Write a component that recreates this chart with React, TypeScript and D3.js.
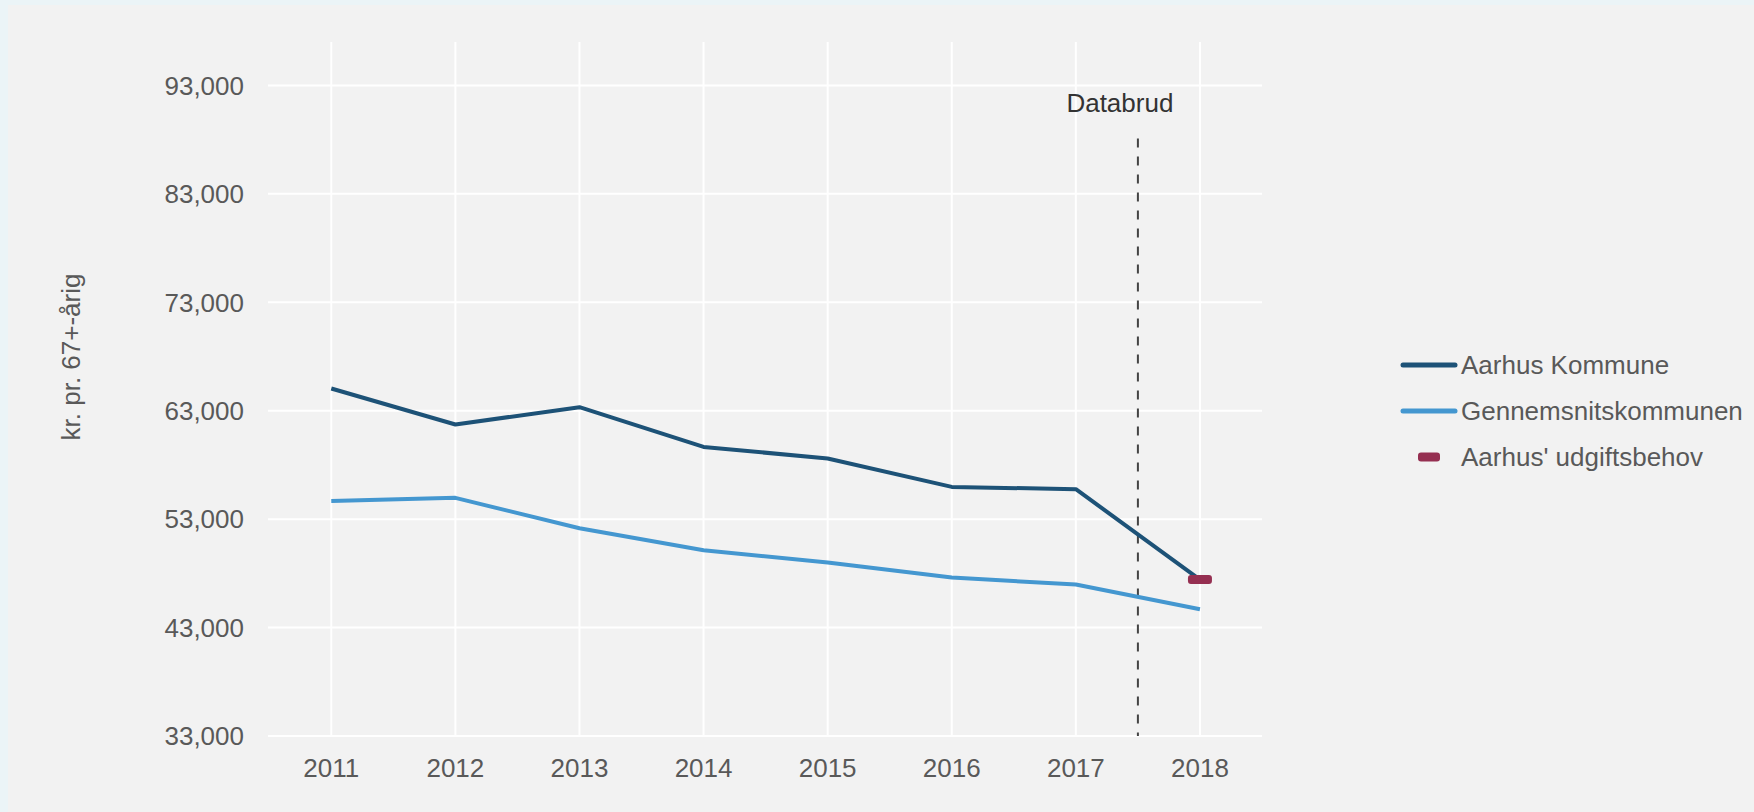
import React from "react";
import * as d3 from "d3";

// data
const years = [2011, 2012, 2013, 2014, 2015, 2016, 2017, 2018];
const aarhusKommune = [65050, 61730, 63320, 59660, 58590, 55970, 55760, 47430];
const gennemsnitskommunen = [54680, 54960, 52160, 50130, 49000, 47610, 46970, 44690];
const udgiftsbehovYear = 2018;
const udgiftsbehovValue = 47430;
const yTicks = [33000, 43000, 53000, 63000, 73000, 83000, 93000];
const databrudYear = 2017.5;
const databrudTop = 88100;

const seriesNames = ["Aarhus Kommune", "Gennemsnitskommunen", "Aarhus' udgiftsbehov"];
const seriesColors = ["#1d5277", "#4497d0", "#952f51"];

const width = 1754;
const height = 812;
const plot = { left: 268, right: 1262, top: 42, bottom: 736 };
const font = "'Liberation Sans', Arial, sans-serif";

const App = () => {
  const x = d3
    .scaleLinear()
    .domain([2010.49, 2018.5])
    .range([plot.left, plot.right]);
  const y = d3
    .scaleLinear()
    .domain([33000, 97000])
    .range([plot.bottom, plot.top]);

  const line = d3
    .line<number>()
    .x((_, i) => x(years[i]))
    .y((d) => y(d));

  const fmt = d3.format(",");

  return (
    <svg
      width={width}
      height={height}
      style={{ position: "absolute", left: 0, top: 0, fontFamily: font }}
    >
      {/* page + panel background */}
      <rect x={0} y={0} width={width} height={height} fill="#ebf4f7" />
      <rect x={8} y={5} width={width - 8} height={height - 5} fill="#f2f2f2" />

      {/* grid */}
      {years.map((yr) => (
        <line
          key={"vx" + yr}
          x1={x(yr)}
          x2={x(yr)}
          y1={plot.top}
          y2={plot.bottom}
          stroke="#ffffff"
          strokeWidth={2}
        />
      ))}
      {yTicks.map((t) => (
        <line
          key={"hy" + t}
          x1={plot.left}
          x2={plot.right}
          y1={y(t)}
          y2={y(t)}
          stroke="#ffffff"
          strokeWidth={2}
        />
      ))}

      {/* y tick labels */}
      {yTicks.map((t) => (
        <text
          key={"ty" + t}
          x={244}
          y={y(t)}
          dy="0.36em"
          textAnchor="end"
          fontSize={26}
          fill="#595959"
        >
          {fmt(t)}
        </text>
      ))}

      {/* x tick labels */}
      {years.map((yr) => (
        <text
          key={"tx" + yr}
          x={x(yr)}
          y={777}
          textAnchor="middle"
          fontSize={26}
          fill="#595959"
        >
          {yr}
        </text>
      ))}

      {/* y axis title */}
      <text
        transform={`translate(80, 357) rotate(-90)`}
        textAnchor="middle"
        fontSize={26}
        fill="#595959"
      >
        kr. pr. 67+-årig
      </text>

      {/* data break */}
      <line
        x1={x(databrudYear)}
        x2={x(databrudYear)}
        y1={y(databrudTop)}
        y2={y(33000)}
        stroke="#444444"
        strokeWidth={2}
        strokeDasharray="9,9"
      />
      <text
        x={x(databrudYear) - 18}
        y={112}
        textAnchor="middle"
        fontSize={26}
        fill="#333333"
      >
        Databrud
      </text>

      {/* series */}
      <path
        d={line(gennemsnitskommunen) || ""}
        fill="none"
        stroke={seriesColors[1]}
        strokeWidth={4}
        strokeLinejoin="round"
      />
      <path
        d={line(aarhusKommune) || ""}
        fill="none"
        stroke={seriesColors[0]}
        strokeWidth={4}
        strokeLinejoin="round"
      />
      <rect
        x={x(udgiftsbehovYear) - 12}
        y={y(udgiftsbehovValue) - 4.5}
        width={24}
        height={9}
        rx={3}
        fill={seriesColors[2]}
      />

      {/* legend */}
      {seriesNames.map((name, i) => {
        const ly = 365 + i * 46;
        return (
          <g key={name}>
            {i < 2 ? (
              <line
                x1={1403}
                x2={1455}
                y1={ly}
                y2={ly}
                stroke={seriesColors[i]}
                strokeWidth={5}
                strokeLinecap="round"
              />
            ) : (
              <rect x={1418} y={ly - 4.5} width={22} height={9} rx={3} fill={seriesColors[i]} />
            )}
            <text x={1461} y={ly} dy="0.36em" fontSize={26} fill="#595959">
              {name}
            </text>
          </g>
        );
      })}
    </svg>
  );
};

export default App;
